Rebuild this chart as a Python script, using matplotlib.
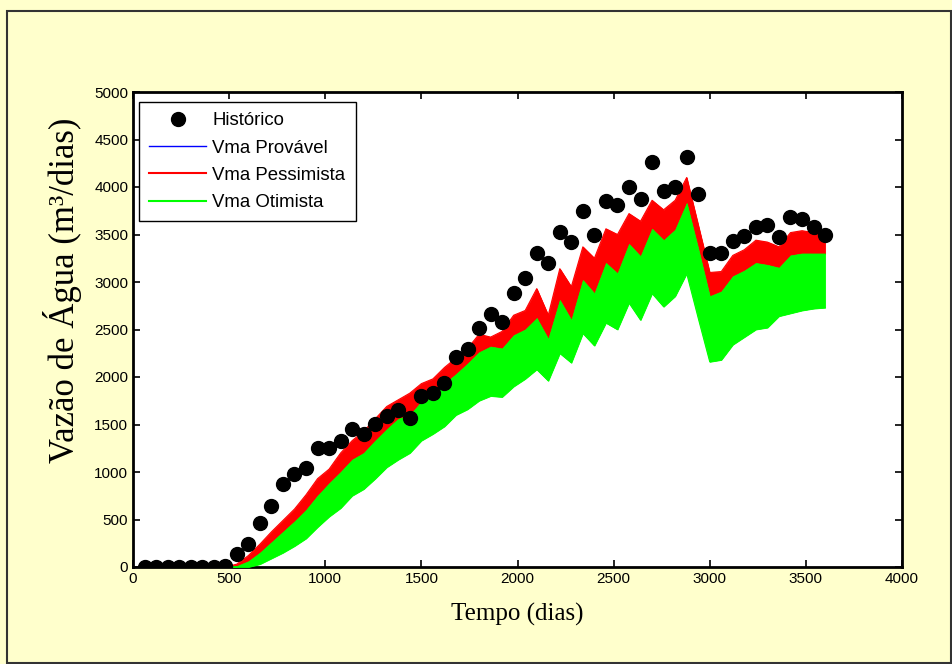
import numpy as np
import matplotlib
matplotlib.use('Agg')
import matplotlib.pyplot as plt
from matplotlib.lines import Line2D
from matplotlib.patches import Rectangle

# historico (a cada 60 dias)
t_hist = np.arange(60, 3601, 60)
q_hist = [0, 0, 0, 0, 0, 0, 0, 15,
          137, 242, 466, 642, 874, 979, 1039, 1249, 1249, 1325,
          1455, 1400, 1503, 1589, 1656, 1570, 1800, 1828, 1940, 2214,
          2291, 2512, 2660, 2574, 2885, 3040, 3302, 3204, 3530, 3425,
          3751, 3495, 3856, 3811, 4003, 3870, 4267, 3961, 4003, 4312,
          3926, 3302, 3302, 3435, 3484, 3576, 3600, 3477, 3688, 3660,
          3576, 3495]

# envelopes das simulacoes
t_sim = np.arange(480, 3601, 60)
pess_top = [0, 30, 120, 240, 370, 490, 610, 760, 930, 1030, 1200, 1330,
            1430, 1560, 1690, 1760, 1830, 1930, 1980, 2100, 2200, 2300,
            2450, 2420, 2480, 2650, 2700, 2930, 2650, 3140, 2950, 3370,
            3250, 3560, 3500, 3720, 3640, 3860, 3760, 3860, 4100, 3600,
            3100, 3110, 3280, 3340, 3440, 3420, 3370, 3520, 3540, 3520,
            3480]
otim_top = [0, 10, 60, 150, 260, 370, 480, 600, 750, 880, 1000, 1130,
            1200, 1330, 1450, 1560, 1600, 1740, 1820, 1930, 2030, 2140,
            2260, 2320, 2300, 2440, 2500, 2620, 2400, 2810, 2600, 3020,
            2880, 3200, 3090, 3400, 3270, 3560, 3440, 3550, 3830, 3350,
            2850, 2900, 3060, 3120, 3200, 3180, 3150, 3280, 3300, 3300,
            3300]
otim_bot = [0, 0, 0, 30, 90, 150, 220, 300, 420, 530, 620, 750,
            820, 930, 1050, 1130, 1200, 1330, 1400, 1480, 1600, 1660,
            1750, 1800, 1790, 1900, 1980, 2080, 1960, 2250, 2150, 2460,
            2330, 2570, 2500, 2780, 2600, 2880, 2740, 2850, 3090, 2620,
            2160, 2180, 2340, 2420, 2500, 2520, 2640, 2670, 2700, 2720,
            2730]

bg = '#FFFFCC'
fig = plt.figure(figsize=(9.53, 6.64), dpi=100, facecolor=bg)
fig.patches.append(Rectangle((7 / 953, 0.002), 944 / 953, 652 / 664,
                             transform=fig.transFigure, fill=False,
                             edgecolor='#333333', lw=1.5))

ax = fig.add_axes([133 / 953, 97 / 664, 769 / 953, 475 / 664])
ax.set_facecolor('white')

ax.fill_between(t_sim, otim_top, pess_top, color='#FF0000', lw=0.6, zorder=2)
ax.plot(t_sim, pess_top, color='#FF0000', lw=0.8, zorder=2)
ax.fill_between(t_sim, otim_bot, otim_top, color='#00FF00', lw=0.6, zorder=3)
ax.plot(t_sim, otim_bot, color='#00FF00', lw=0.8, zorder=3)

ax.plot(t_hist, q_hist, 'o', color='black', markersize=10, zorder=5)

ax.set_xlim(0, 4000)
ax.set_ylim(0, 5000)
ax.set_xticks(np.arange(0, 4001, 500))
ax.set_yticks(np.arange(0, 5001, 500))
ax.tick_params(direction='in', length=5, width=1.2, top=True, right=True,
               labelsize=11)
for lab in ax.get_xticklabels() + ax.get_yticklabels():
    lab.set_family(['Liberation Sans', 'DejaVu Sans'])
for s in ax.spines.values():
    s.set_linewidth(2)

ax.set_xlabel('Tempo (dias)', family='Liberation Serif', fontsize=18, labelpad=12)
ax.set_ylabel('Vazão de Água (m³/dias)', family='Liberation Serif', fontsize=25)
ax.yaxis.set_label_coords(-0.066, 0.583)

handles = [Line2D([], [], ls='none', marker='o', color='black', markersize=10),
           Line2D([], [], color='#0000FF', lw=1),
           Line2D([], [], color='#FF0000', lw=1.5),
           Line2D([], [], color='#00FF00', lw=1.5)]
labels = ['Histórico', 'Vma Provável', 'Vma Pessimista', 'Vma Otimista']
leg = ax.legend(handles, labels, loc='upper left',
                bbox_to_anchor=(6 / 769, 1 - 10 / 475), borderaxespad=0,
                fancybox=False, edgecolor='black', framealpha=1,
                prop={'family': 'Liberation Sans', 'size': 13.4},
                handlelength=3.06, handletextpad=0.32, labelspacing=0.55,
                borderpad=0.55)
leg.get_frame().set_linewidth(1)
leg.set_zorder(10)

fig.savefig('out.png', dpi=100, facecolor=bg)
